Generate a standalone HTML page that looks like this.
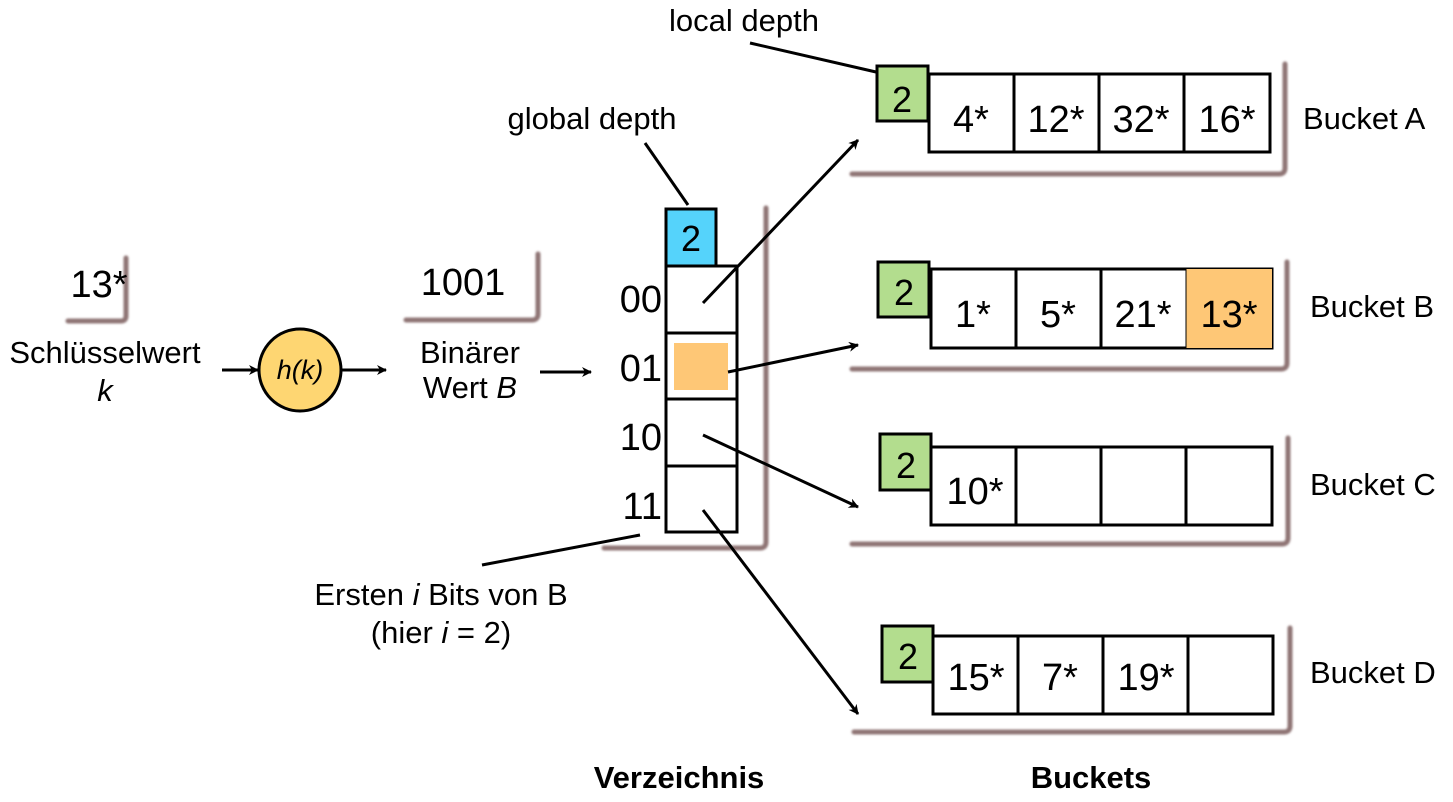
<!DOCTYPE html>
<html><head><meta charset="utf-8"><style>
html,body{margin:0;padding:0;background:#fff}
svg{display:block}
text{font-family:"Liberation Sans",sans-serif;fill:#000}
</style></head><body>
<svg width="1453" height="802" viewBox="0 0 1453 802" xmlns="http://www.w3.org/2000/svg">
<defs>
<marker id="ah" markerWidth="10" markerHeight="10" refX="9" refY="5" orient="auto" markerUnits="userSpaceOnUse">
<path d="M0,0 L10,5 L0,10 L3,5 z" fill="#000"/>
</marker>
<filter id="bl"><feGaussianBlur stdDeviation="1"/></filter>
</defs>
<g fill="none" stroke="#8f7474" stroke-width="5" filter="url(#bl)" stroke-linecap="round">
<path d="M126,258 V316 Q126,321 121,321 H68"/>
<path d="M538,254 V314 Q538,320 532,320 H406"/>
<path d="M766,208 V542 Q766,548 760,548 H604"/>
<path d="M1285,64 V168 Q1285,174 1279,174 H852"/>
<path d="M1287,262 V363 Q1287,369 1281,369 H852"/>
<path d="M1288,438 V538 Q1288,544 1282,544 H852"/>
<path d="M1290,628 V726 Q1290,732 1284,732 H854"/>
</g>
<g stroke="#000" stroke-width="3">
<rect x="929" y="74" width="341" height="78" fill="#fff"/>
<line x1="1014" y1="74" x2="1014" y2="152"/><line x1="1099" y1="74" x2="1099" y2="152"/><line x1="1184" y1="74" x2="1184" y2="152"/>
<rect x="877" y="66" width="51" height="55" fill="#b3dd8e"/>
<rect x="931" y="269" width="341" height="79" fill="#fff"/>
<rect x="1186" y="269" width="86" height="79" fill="#fec776" stroke="none"/>
<line x1="1016" y1="269" x2="1016" y2="348"/><line x1="1101" y1="269" x2="1101" y2="348"/><line x1="1186" y1="269" x2="1186" y2="348" stroke-width="1"/>
<rect x="878" y="262" width="51" height="55" fill="#b3dd8e"/>
<rect x="931" y="447" width="341" height="78" fill="#fff"/>
<line x1="1016" y1="447" x2="1016" y2="525"/><line x1="1101" y1="447" x2="1101" y2="525"/><line x1="1186" y1="447" x2="1186" y2="525"/>
<rect x="880" y="434" width="51" height="56" fill="#b3dd8e"/>
<rect x="933" y="636" width="340" height="78" fill="#fff"/>
<line x1="1018" y1="636" x2="1018" y2="714"/><line x1="1103" y1="636" x2="1103" y2="714"/><line x1="1188" y1="636" x2="1188" y2="714"/>
<rect x="882" y="626" width="51" height="56" fill="#b3dd8e"/>
<rect x="666" y="209" width="50" height="57" fill="#55d3fb"/>
<rect x="666" y="266" width="71" height="266" fill="#fff"/>
<line x1="666" y1="333" x2="737" y2="333"/><line x1="666" y1="399" x2="737" y2="399"/><line x1="666" y1="466" x2="737" y2="466"/>
<rect x="674" y="343" width="54" height="47" fill="#fec776" stroke="none"/>
<circle cx="300" cy="370" r="41" fill="#fed672"/>
</g>
<g stroke="#000" stroke-width="3" fill="none">
<line x1="703" y1="303" x2="858" y2="140" marker-end="url(#ah)"/>
<line x1="728" y1="372" x2="858" y2="345" marker-end="url(#ah)"/>
<line x1="703" y1="435" x2="858" y2="507" marker-end="url(#ah)"/>
<line x1="703" y1="510" x2="858" y2="714" marker-end="url(#ah)"/>
<line x1="222" y1="370" x2="258" y2="370" marker-end="url(#ah)"/>
<line x1="342" y1="370" x2="386" y2="370" marker-end="url(#ah)"/>
<line x1="540" y1="372" x2="591" y2="372" marker-end="url(#ah)"/>
<line x1="645" y1="143" x2="688" y2="205"/>
<line x1="750" y1="43" x2="876" y2="72"/>
<line x1="482" y1="565" x2="640" y2="535"/>
</g>
<g font-size="36" text-anchor="middle">
<text x="902" y="112">2</text><text x="904" y="305">2</text><text x="906" y="478">2</text><text x="908" y="669">2</text>
<text x="691" y="251">2</text>
</g>
<g font-size="38" text-anchor="middle">
<text x="971" y="132">4*</text><text x="1056" y="132">12*</text><text x="1141" y="132">32*</text><text x="1227" y="132">16*</text>
<text x="973" y="327">1*</text><text x="1058" y="327">5*</text><text x="1143" y="327">21*</text><text x="1229" y="327">13*</text>
<text x="975" y="504">10*</text>
<text x="976" y="690">15*</text><text x="1060" y="690">7*</text><text x="1146" y="690">19*</text>
<text x="99" y="297">13*</text><text x="463" y="295">1001</text>
</g>
<g font-size="38" text-anchor="end">
<text x="662" y="312">00</text><text x="662" y="381">01</text><text x="662" y="450">10</text><text x="662" y="519">11</text>
</g>
<g font-size="31">
<text x="1303" y="129">Bucket A</text><text x="1310" y="317">Bucket B</text><text x="1310" y="495">Bucket C</text><text x="1310" y="683">Bucket D</text>
</g>
<g font-size="31" text-anchor="middle">
<text x="744" y="31">local depth</text>
<text x="592" y="129">global depth</text>
<text x="105" y="363">Schlüsselwert</text><text x="105" y="401" font-style="italic">k</text>
<text x="470" y="363">Binärer</text><text x="470" y="398">Wert <tspan font-style="italic">B</tspan></text>
<text x="300" y="379" font-style="italic" font-size="27">h(k)</text>
<text x="441" y="605">Ersten <tspan font-style="italic">i</tspan> Bits von B</text>
<text x="441" y="643">(hier <tspan font-style="italic">i</tspan> = 2)</text>
<text x="679" y="788" font-weight="bold">Verzeichnis</text>
<text x="1091" y="788" font-weight="bold">Buckets</text>
</g>
</svg>
</body></html>
